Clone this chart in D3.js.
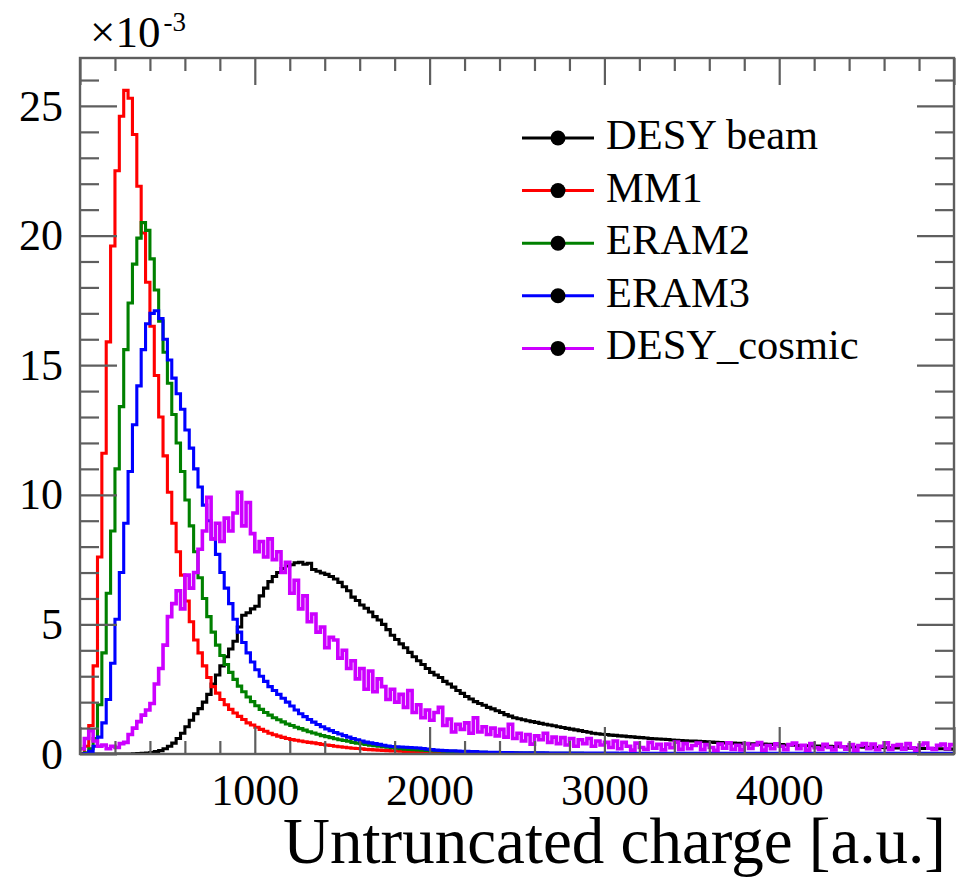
<!DOCTYPE html>
<html><head><meta charset="utf-8">
<script src="https://cdn.jsdelivr.net/npm/d3@7"></script>
<style>body{margin:0;background:#fff} svg{display:block}</style>
</head><body><svg id="c" width="958" height="877"></svg>
<script>
// ---------- data ----------
const binWidth = 25;            // charge units per bin, bins cover 0..5000
const xDomain = [0, 5000];
const yDomain = [0, 26.85];     // in units of 1e-3
const seriesNames = ["DESY beam", "MM1", "ERAM2", "ERAM3", "DESY_cosmic"];
const seriesColors = ["#000000", "#ff0000", "#008000", "#0000ff", "#cc00ff"];
const xMajorTicks = [0, 1000, 2000, 3000, 4000, 5000];
const xLabelTicks = [1000, 2000, 3000, 4000];
const yMajorTicks = [0, 5, 10, 15, 20, 25];

const desyBeam = [
0,0,0,0,0,0,0,0,0,0,
0,0,0.01,0.02,0.03,0.04,0.06,0.09,0.13,0.2,
0.3,0.42,0.6,0.8,1.05,1.3,1.55,1.75,2.0,2.3,
2.7,3.05,3.4,3.75,4.05,4.35,4.9,5.35,5.45,5.6,
5.7,6.1,6.4,6.65,6.85,7.0,7.15,7.25,7.3,7.38,
7.4,7.32,7.36,7.12,7.05,6.98,6.93,6.85,6.75,6.62,
6.45,6.3,6.05,5.92,5.75,5.62,5.48,5.3,5.17,5.0,
4.8,4.58,4.42,4.25,4.1,3.92,3.75,3.6,3.45,3.3,
3.15,3.05,2.95,2.8,2.7,2.58,2.45,2.34,2.22,2.12,
2.02,1.95,1.88,1.8,1.74,1.67,1.6,1.52,1.46,1.4,
1.36,1.32,1.28,1.25,1.22,1.18,1.15,1.12,1.09,1.05,
1.02,0.99,0.96,0.93,0.9,0.87,0.84,0.8,0.78,0.76,
0.75,0.73,0.72,0.7,0.69,0.67,0.66,0.64,0.63,0.62,
0.6,0.59,0.58,0.57,0.56,0.54,0.53,0.52,0.51,0.5,
0.5,0.49,0.48,0.47,0.46,0.45,0.44,0.43,0.43,0.42,
0.41,0.41,0.4,0.39,0.39,0.38,0.38,0.37,0.37,0.36,
0.36,0.35,0.35,0.34,0.33,0.33,0.32,0.32,0.31,0.31,
0.3,0.3,0.29,0.29,0.28,0.28,0.27,0.27,0.27,0.26,
0.26,0.25,0.25,0.25,0.24,0.24,0.23,0.23,0.23,0.22,
0.22,0.22,0.21,0.21,0.21,0.2,0.2,0.2,0.19,0.19];

const mm1 = [
0.02,0.3,1.1,3.4,7.6,11.6,15.9,19.6,22.5,24.6,
25.6,25.3,23.9,21.9,20.1,18.2,16.5,14.6,13.0,11.5,
10.1,8.9,7.8,6.9,5.9,5.1,4.4,3.9,3.4,2.95,
2.6,2.35,2.1,1.9,1.72,1.58,1.45,1.33,1.2,1.12,
1.03,0.95,0.88,0.8,0.74,0.69,0.64,0.6,0.56,0.53,
0.5,0.47,0.45,0.43,0.4,0.37,0.35,0.33,0.3,0.28,
0.26,0.24,0.22,0.21,0.2,0.18,0.17,0.16,0.15,0.14,
0.13,0.12,0.12,0.11,0.1,0.1,0.09,0.09,0.08,0.08,
0.07,0.07,0.06,0.06,0.06,0.05,0.05,0.05,0.05,0.04,
0.04,0.04,0.04,0.04,0.03,0.03,0.03,0.03,0.03,0.03,
0.03,0.02,0.02,0.03,0.02,0.02,0.02,0.02,0.02,0.02,
0.02,0.02,0.02,0.01,0.02,0.02,0.01,0.02,0.01,0.01,
0.01,0.01,0.02,0.01,0.01,0.01,0.01,0.01,0.01,0.01,
0.01,0.01,0.01,0.01,0.01,0.01,0.01,0.01,0.01,0.01,
0.01,0.01,0.01,0.01,0.01,0.01,0.01,0.01,0.01,0.01,
0.01,0.01,0.01,0.01,0.01,0.01,0.01,0.01,0.01,0.01,
0.01,0.01,0.01,0.01,0.01,0.01,0.01,0.01,0.01,0.01,
0.01,0.01,0.01,0.01,0.01,0.01,0.01,0.01,0.01,0.01,
0.01,0.01,0.01,0.01,0.01,0.01,0.01,0.01,0.01,0.01,
0.01,0.01,0.01,0.01,0.01,0.01,0.01,0.01,0.01,0.01];

const eram2 = [
0.0,0.05,0.2,0.6,1.9,3.9,6.2,8.6,11.0,13.4,
15.6,17.4,18.9,19.9,20.5,20.2,19.1,17.9,16.7,15.5,
14.3,13.1,12.0,10.9,9.8,8.8,7.8,6.8,6.0,5.3,
4.7,4.2,3.8,3.45,3.15,2.88,2.62,2.4,2.2,2.02,
1.86,1.72,1.6,1.5,1.4,1.32,1.24,1.16,1.1,1.03,
0.98,0.92,0.86,0.81,0.76,0.71,0.67,0.63,0.59,0.55,
0.52,0.49,0.45,0.42,0.4,0.37,0.34,0.32,0.3,0.28,
0.26,0.24,0.22,0.2,0.19,0.18,0.17,0.16,0.15,0.14,
0.13,0.12,0.12,0.11,0.1,0.1,0.09,0.09,0.08,0.08,
0.07,0.07,0.07,0.06,0.06,0.06,0.05,0.05,0.05,0.05,
0.04,0.04,0.04,0.04,0.04,0.04,0.03,0.03,0.03,0.03,
0.03,0.03,0.03,0.03,0.03,0.02,0.02,0.02,0.02,0.02,
0.02,0.02,0.02,0.02,0.02,0.02,0.02,0.02,0.02,0.02,
0.02,0.02,0.02,0.02,0.02,0.02,0.02,0.01,0.02,0.01,
0.01,0.01,0.01,0.01,0.01,0.01,0.01,0.01,0.01,0.01,
0.01,0.01,0.01,0.01,0.01,0.01,0.01,0.01,0.01,0.01,
0.01,0.01,0.01,0.01,0.01,0.01,0.01,0.01,0.01,0.01,
0.01,0.01,0.01,0.01,0.01,0.01,0.01,0.01,0.01,0.01,
0.01,0.01,0.01,0.01,0.01,0.01,0.01,0.01,0.01,0.01,
0.01,0.01,0.01,0.01,0.01,0.01,0.01,0.01,0.01,0.01];

const eram3 = [
0.0,0.02,0.1,0.3,0.65,1.2,2.1,3.5,5.2,7.0,
8.9,10.9,12.7,14.2,15.6,16.6,17.0,17.1,16.8,16.0,
15.2,14.5,13.9,13.3,12.5,11.8,11.0,10.3,9.6,9.0,
8.3,7.7,7.0,6.4,5.8,5.2,4.7,4.3,3.9,3.55,
3.25,3.0,2.8,2.6,2.45,2.3,2.15,2.0,1.85,1.7,
1.55,1.44,1.33,1.23,1.14,1.05,0.97,0.9,0.83,0.77,
0.71,0.65,0.6,0.55,0.5,0.46,0.43,0.4,0.37,0.34,
0.31,0.29,0.28,0.27,0.26,0.25,0.24,0.23,0.21,0.19,
0.17,0.15,0.14,0.13,0.12,0.12,0.11,0.1,0.1,0.09,
0.09,0.08,0.08,0.07,0.07,0.07,0.06,0.06,0.06,0.05,
0.05,0.05,0.05,0.05,0.05,0.05,0.05,0.04,0.04,0.04,
0.04,0.04,0.04,0.04,0.04,0.04,0.04,0.04,0.04,0.04,
0.04,0.04,0.04,0.03,0.04,0.03,0.03,0.03,0.03,0.03,
0.03,0.03,0.03,0.03,0.03,0.03,0.03,0.03,0.03,0.03,
0.03,0.03,0.03,0.03,0.03,0.03,0.03,0.03,0.03,0.03,
0.03,0.03,0.03,0.03,0.03,0.03,0.03,0.03,0.03,0.03,
0.03,0.03,0.03,0.03,0.03,0.03,0.03,0.03,0.03,0.03,
0.03,0.03,0.03,0.03,0.03,0.03,0.03,0.03,0.03,0.03,
0.03,0.03,0.03,0.03,0.03,0.03,0.03,0.03,0.03,0.03,
0.03,0.03,0.03,0.03,0.03,0.03,0.03,0.03,0.03,0.03];

const desyCosmic = [
0.2,0.6,0.9,0.5,0.3,0.35,0.2,0.3,0.25,0.4,
0.45,0.75,1.0,1.25,1.5,1.7,1.95,2.7,3.3,4.2,
5.3,5.8,6.3,5.6,6.9,6.4,7.0,7.9,8.6,9.9,
8.3,8.9,8.2,9.1,8.6,9.3,10.1,8.8,9.7,8.5,
7.8,8.2,7.6,8.3,7.5,7.8,7.0,7.4,6.2,6.7,
5.6,6.1,5.1,5.4,4.7,4.9,4.1,4.5,4.4,3.7,
4.0,3.3,3.6,2.9,3.3,2.5,3.2,2.4,2.9,2.6,
2.1,2.5,2.0,2.3,1.8,2.45,1.6,1.9,1.4,1.7,
1.3,1.6,1.8,1.1,1.35,0.85,1.15,0.95,1.2,0.8,
1.4,0.85,1.05,0.75,1.0,0.7,0.95,0.65,1.15,0.6,
0.8,0.5,0.75,0.38,0.7,0.55,0.8,0.45,0.65,0.4,
0.63,0.35,0.6,0.3,0.55,0.4,0.6,0.3,0.5,0.35,
0.45,0.25,0.5,0.2,0.45,0.3,0.15,0.42,0.25,0.18,
0.45,0.22,0.37,0.16,0.38,0.24,0.46,0.18,0.4,0.2,
0.33,0.42,0.17,0.36,0.25,0.14,0.38,0.22,0.43,0.18,
0.34,0.16,0.4,0.21,0.35,0.44,0.15,0.33,0.2,0.39,
0.3,0.17,0.36,0.42,0.2,0.34,0.15,0.4,0.24,0.18,
0.37,0.25,0.16,0.41,0.28,0.19,0.36,0.14,0.33,0.4,
0.2,0.38,0.17,0.3,0.43,0.18,0.33,0.36,0.19,0.4,
0.24,0.15,0.35,0.42,0.22,0.18,0.34,0.38,0.2,0.36];

const seriesValues = [desyBeam, mm1, eram2, eram3, desyCosmic];

// ---------- layout ----------
const FL = 80, FR = 954, FT = 58, FB = 754;
const frameColor = "#5e5e5e";
const serif = "'Liberation Serif','DejaVu Serif',serif";

const svg = d3.select("#c");
const x = d3.scaleLinear().domain(xDomain).range([FL, FR]);
const y = d3.scaleLinear().domain(yDomain).range([FB, FT]);

svg.append("defs").append("clipPath").attr("id", "clip")
  .append("rect").attr("x", FL).attr("y", FT).attr("width", FR - FL).attr("height", FB - FT);

// histograms
const line = d3.line().x(d => x(d[0])).y(d => y(d[1])).curve(d3.curveStepAfter);
const gH = svg.append("g").attr("clip-path", "url(#clip)");
seriesValues.forEach((vals, k) => {
  const pts = vals.map((v, i) => [xDomain[0] + i * binWidth, v]);
  pts.push([xDomain[0] + vals.length * binWidth, vals[vals.length - 1]]);
  gH.append("path").attr("d", line(pts)).attr("fill", "none")
    .attr("stroke", seriesColors[k]).attr("stroke-width", k === 4 ? 3.6 : 3.1)
    .attr("stroke-linejoin", "miter");
});

// axes / ticks
function styleAxis(g) {
  g.select(".domain").remove();
  g.selectAll(".tick line").attr("stroke", frameColor).attr("stroke-width", 2.2);
  g.selectAll("text").attr("font-family", serif).attr("fill", "#000");
}
const xMinor = d3.range(0, 5001, 200).filter(v => v % 1000 !== 0);
const yMinor = d3.range(0, 27, 1).filter(v => v % 5 !== 0);

// bottom
svg.append("g").attr("transform", `translate(0,${FB})`)
  .call(d3.axisBottom(x).tickValues(xMinor).tickSize(-13).tickFormat("")).call(styleAxis);
svg.append("g").attr("transform", `translate(0,${FB})`)
  .call(d3.axisBottom(x).tickValues(xMajorTicks).tickSize(-27).tickPadding(20)
    .tickFormat(d => xLabelTicks.includes(d) ? d : ""))
  .call(styleAxis).selectAll("text").attr("font-size", 44);
// top
svg.append("g").attr("transform", `translate(0,${FT})`)
  .call(d3.axisTop(x).tickValues(xMinor).tickSize(-13).tickFormat("")).call(styleAxis);
svg.append("g").attr("transform", `translate(0,${FT})`)
  .call(d3.axisTop(x).tickValues(xMajorTicks).tickSize(-27).tickFormat("")).call(styleAxis);
// left
svg.append("g").attr("transform", `translate(${FL},0)`)
  .call(d3.axisLeft(y).tickValues(yMinor).tickSize(-19).tickFormat("")).call(styleAxis);
svg.append("g").attr("transform", `translate(${FL},0)`)
  .call(d3.axisLeft(y).tickValues(yMajorTicks).tickSize(-37).tickPadding(17).tickFormat(d3.format("d")))
  .call(styleAxis).selectAll("text").attr("font-size", 44);
// right
svg.append("g").attr("transform", `translate(${FR},0)`)
  .call(d3.axisRight(y).tickValues(yMinor).tickSize(-19).tickFormat("")).call(styleAxis);
svg.append("g").attr("transform", `translate(${FR},0)`)
  .call(d3.axisRight(y).tickValues(yMajorTicks).tickSize(-37).tickFormat("")).call(styleAxis);

// frame
svg.append("rect").attr("x", FL).attr("y", FT).attr("width", FR - FL).attr("height", FB - FT)
  .attr("fill", "none").attr("stroke", frameColor).attr("stroke-width", 2.4);

// exponent label
const ex = svg.append("text").attr("x", 90).attr("y", 47).attr("font-family", serif)
  .attr("font-size", 45).attr("fill", "#000");
ex.append("tspan").text("×10");
ex.append("tspan").attr("font-size", 27).attr("dy", -16).attr("dx", 3).text("-3");

// x title
svg.append("text").attr("x", 946).attr("y", 863).attr("text-anchor", "end")
  .attr("font-family", serif).attr("font-size", 65).attr("fill", "#000")
  .text("Untruncated charge [a.u.]");

// legend
const lg = svg.append("g");
seriesNames.forEach((name, k) => {
  const cy = 138 + k * 52.6;
  lg.append("line").attr("x1", 522).attr("x2", 594).attr("y1", cy).attr("y2", cy)
    .attr("stroke", seriesColors[k]).attr("stroke-width", 3);
  lg.append("circle").attr("cx", 558).attr("cy", cy).attr("r", 7.5).attr("fill", "#000");
  lg.append("text").attr("x", 606).attr("y", cy + 11).attr("font-family", serif)
    .attr("font-size", 42.5).attr("fill", "#000").text(name);
});
</script></body></html>
